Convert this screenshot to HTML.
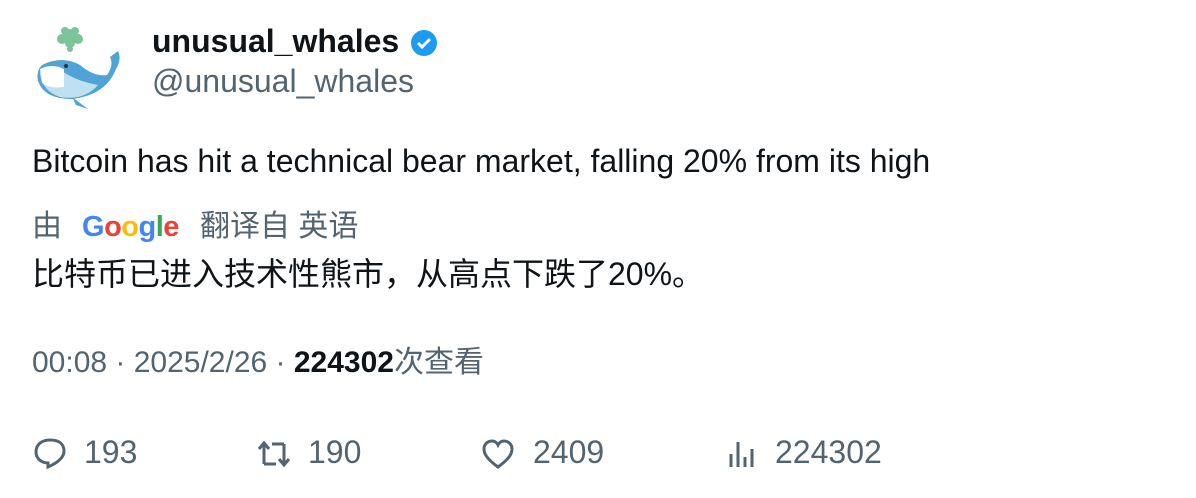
<!DOCTYPE html>
<html><head><meta charset="utf-8"><style>
body{margin:0;width:1196px;height:498px;background:#fff;position:relative;overflow:hidden;font-family:"Liberation Sans","Noto Sans CJK SC",sans-serif;}
.a{position:absolute;white-space:nowrap;line-height:1;}
.g{color:#536471;}
</style></head><body>
<svg class="a" style="left:32px;top:25px" width="96" height="88" viewBox="0 0 96 88">
 <g fill="#7cc49a"><circle cx="38" cy="10" r="6"/><circle cx="30" cy="14" r="5"/><circle cx="46" cy="14" r="5"/><circle cx="38" cy="18" r="5"/><circle cx="33" cy="6" r="4"/><circle cx="43" cy="6" r="4"/><circle cx="38" cy="24" r="3"/></g>
 <path d="M10 40 Q30 30 48 40 Q62 52 75 50 Q82 40 78 32 L86 26 Q90 34 84 44 Q74 70 40 74 Q12 74 6 56 Q4 46 10 40Z" fill="#4fa3d6"/>
 <path d="M8 48 Q14 44 30 46 Q44 56 66 60 Q52 76 28 72 Q10 66 8 48Z" fill="#bfe0f0"/>
 <path d="M8 44 Q20 38 32 44 L32 62 Q18 64 10 58Z" fill="#fff"/>
 <path d="M40 72 L56 84 L44 80Z" fill="#4fa3d6"/>
 <circle cx="34" cy="41" r="2" fill="#333"/>
</svg>
<div class="a" style="left:152px;top:25px;font-size:32px;font-weight:bold;color:#0f1419">unusual_whales</div>
<svg class="a" style="left:409px;top:28px" width="30" height="30" viewBox="0 0 30 30"><circle cx="15" cy="15" r="13" fill="#1d9bf0"/><path d="M9 15 L13 19 L21 11" stroke="#fff" stroke-width="3" fill="none"/></svg>
<div class="a g" style="left:152px;top:65px;font-size:32px">@unusual_whales</div>
<div class="a" style="left:32px;top:145px;font-size:32px;color:#0f1419">Bitcoin has hit a technical bear market, falling 20% from its high</div>
<div class="a g" style="left:32px;top:212px;font-size:30px">由<span style="position:absolute;left:50px;top:1px;font-weight:bold;font-size:29px;letter-spacing:-0.5px"><span style="color:#4285f4">G</span><span style="color:#ea4335">o</span><span style="color:#fbbc05">o</span><span style="color:#4285f4">g</span><span style="color:#34a853">l</span><span style="color:#ea4335">e</span></span><span style="position:absolute;left:168px;top:0">翻译自 英语</span></div>
<div class="a" style="left:32px;top:258px;font-size:32px;color:#0f1419">比特币已进入技术性熊市，从高点下跌了20%。</div>
<div class="a g" style="left:32px;top:348px;font-size:30px">00:08 · 2025/2/26 · <b style="color:#0f1419">224302</b>次查看</div>
<svg class="a" style="left:33px;top:436px" width="34" height="34" viewBox="0 0 34 34"><path d="M17 4 C8 4 3 9 3 16 C3 23 9 27 15 27 L15 31 C24 27 31 22 31 15 C31 8 26 4 17 4Z" fill="none" stroke="#536471" stroke-width="3"/></svg>
<div class="a g" style="left:84px;top:436px;font-size:32px">193</div>
<svg class="a" style="left:256px;top:438px" width="36" height="32" viewBox="0 0 36 32"><path d="M8 26 V6 M3 11 L8 5 L13 11 M8 26 H20 M28 6 V26 M23 21 L28 27 L33 21 M28 6 H16" fill="none" stroke="#536471" stroke-width="3"/></svg>
<div class="a g" style="left:308px;top:436px;font-size:32px">190</div>
<svg class="a" style="left:481px;top:438px" width="34" height="32" viewBox="0 0 34 32"><path d="M17 29 C6 21 3 16 3 11 C3 6 7 3 11 3 C14 3 16 5 17 7 C18 5 20 3 23 3 C27 3 31 6 31 11 C31 16 28 21 17 29Z" fill="none" stroke="#536471" stroke-width="3"/></svg>
<div class="a g" style="left:533px;top:436px;font-size:32px">2409</div>
<svg class="a" style="left:727px;top:438px" width="30" height="30" viewBox="0 0 30 30"><g stroke="#536471" stroke-width="3"><path d="M4 16 V29 M11 4 V29 M18 19 V29 M25 11 V29"/></g></svg>
<div class="a g" style="left:775px;top:436px;font-size:32px">224302</div>
</body></html>
